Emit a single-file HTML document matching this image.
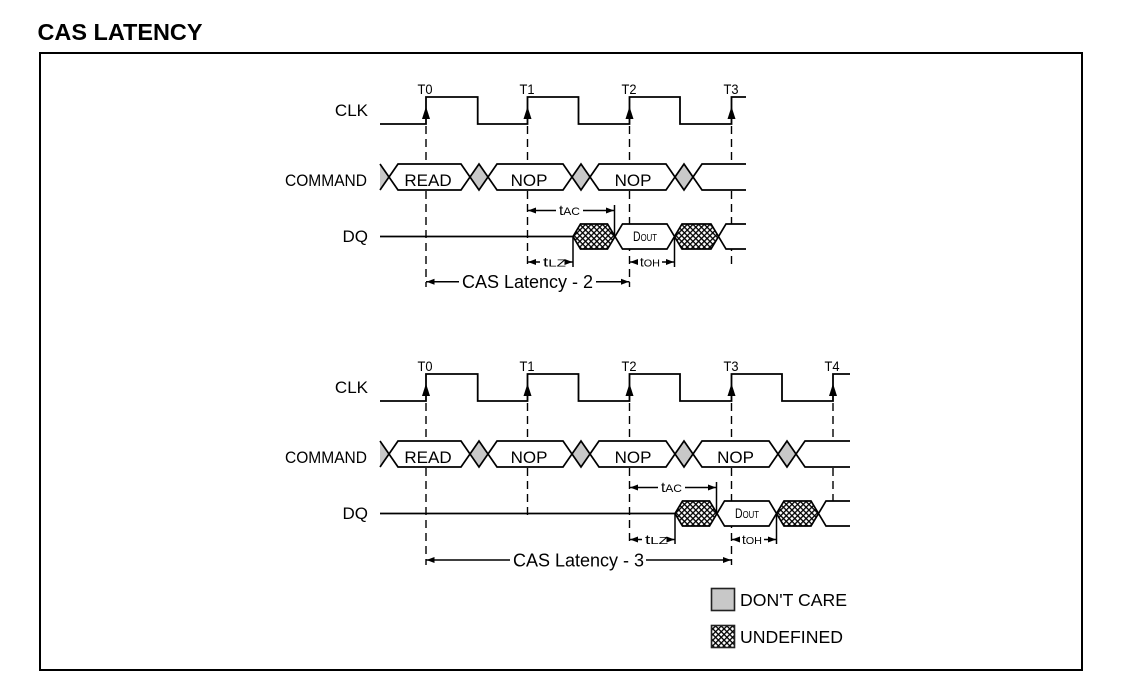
<!DOCTYPE html>
<html><head><meta charset="utf-8"><style>
html,body{margin:0;padding:0;background:#fff;}
svg{display:block;}
text{font-family:"Liberation Sans",Arial,sans-serif;fill:#000;}
</style></head><body>
<svg width="1125" height="684" viewBox="0 0 1125 684" xmlns="http://www.w3.org/2000/svg">
<defs>
<pattern id="hatch" patternUnits="userSpaceOnUse" width="4" height="4" patternTransform="rotate(45)">
<rect width="4" height="4" fill="#fff"/>
<rect x="0" y="0" width="4" height="1.3" fill="#000"/>
<rect x="0" y="0" width="1.3" height="4" fill="#000"/>
</pattern>
</defs>
<rect width="1125" height="684" fill="#fff"/>
<text x="37.5" y="40" font-size="23" font-weight="bold" textLength="165" lengthAdjust="spacingAndGlyphs">CAS LATENCY</text>
<rect x="40" y="53" width="1042" height="617" fill="none" stroke="#000" stroke-width="2"/>

<!-- ================= DIAGRAM 1 ================= -->
<g stroke="#000" stroke-width="1.4" stroke-dasharray="8 5" fill="none">
<line x1="426" y1="126" x2="426" y2="287"/>
<line x1="527.5" y1="126" x2="527.5" y2="268"/>
<line x1="629.5" y1="126" x2="629.5" y2="287"/>
<line x1="731.5" y1="126" x2="731.5" y2="268"/>
</g>
<text x="368" y="116" font-size="17" text-anchor="end">CLK</text>
<text x="285" y="186" font-size="17" textLength="82" lengthAdjust="spacingAndGlyphs">COMMAND</text>
<text x="368" y="242" font-size="17" text-anchor="end">DQ</text>
<g font-size="14" text-anchor="middle">
<text x="425" y="94" textLength="15" lengthAdjust="spacingAndGlyphs">T0</text><text x="527" y="94" textLength="15" lengthAdjust="spacingAndGlyphs">T1</text><text x="629" y="94" textLength="15" lengthAdjust="spacingAndGlyphs">T2</text><text x="731" y="94" textLength="15" lengthAdjust="spacingAndGlyphs">T3</text>
</g>
<polyline points="380,124 426,124 426,97 477.7,97 477.7,124 527.5,124 527.5,97 578.5,97 578.5,124 629.5,124 629.5,97 680,97 680,124 731.5,124 731.5,97 746,97" fill="none" stroke="#000" stroke-width="1.8"/>
<g fill="#000">
<polygon points="426,106.5 422,119 430,119"/>
<polygon points="527.5,106.5 523.5,119 531.5,119"/>
<polygon points="629.5,106.5 625.5,119 633.5,119"/>
<polygon points="731.5,106.5 727.5,119 735.5,119"/>
</g>
<g stroke="#000" stroke-width="1.7" stroke-linejoin="miter">
<polygon points="380,164 389,177 380,190" fill="#c8c8c8" stroke="none"/>
<line x1="380" y1="164" x2="389" y2="177"/><line x1="380" y1="190" x2="389" y2="177"/>
<polygon points="389,177 398,164 461,164 470,177 461,190 398,190" fill="#fff"/>
<polygon points="470,177 479,164 488,177 479,190" fill="#c8c8c8"/>
<polygon points="488,177 497,164 563,164 572,177 563,190 497,190" fill="#fff"/>
<polygon points="572,177 581,164 590,177 581,190" fill="#c8c8c8"/>
<polygon points="590,177 599,164 666,164 675,177 666,190 599,190" fill="#fff"/>
<polygon points="675,177 684,164 693,177 684,190" fill="#c8c8c8"/>
<polygon points="693,177 702,164 746,164 746,190 702,190" fill="#fff" stroke="none"/>
<polyline points="746,164 702,164 693,177 702,190 746,190" fill="none"/>
</g>
<g font-size="17" text-anchor="middle">
<text x="428" y="186">READ</text><text x="529" y="186">NOP</text><text x="633" y="186">NOP</text>
</g>
<g stroke="#000" stroke-width="1.7">
<line x1="380" y1="236.5" x2="573" y2="236.5"/>
<polygon points="573,236.5 580.5,224 607.5,224 615,236.5 607.5,249 580.5,249" fill="url(#hatch)"/>
<polygon points="615,236.5 622.5,224 667,224 674.5,236.5 667,249 622.5,249" fill="#fff"/>
<polygon points="674.5,236.5 682,224 711,224 718.5,236.5 711,249 682,249" fill="url(#hatch)"/>
<polygon points="718.5,236.5 726,224 746,224 746,249 726,249" fill="#fff" stroke="none"/>
<polyline points="746,224 726,224 718.5,236.5 726,249 746,249" fill="none"/>
</g>
<text x="633" y="241" font-size="13.5" textLength="24" lengthAdjust="spacingAndGlyphs">D<tspan font-size="10">OUT</tspan></text>
<g stroke="#000" stroke-width="1.5">
<line x1="614.5" y1="205" x2="614.5" y2="236.5"/>
<line x1="573" y1="236.5" x2="573" y2="267"/>
<line x1="674.5" y1="236.5" x2="674.5" y2="267"/>
<line x1="527.5" y1="210.5" x2="556" y2="210.5"/><line x1="583" y1="210.5" x2="614.5" y2="210.5"/>
<line x1="527.5" y1="262" x2="540" y2="262"/><line x1="568" y1="262" x2="573" y2="262"/>
<line x1="629.5" y1="262" x2="638" y2="262"/><line x1="662" y1="262" x2="674.5" y2="262"/>
<line x1="426" y1="281.7" x2="459" y2="281.7"/><line x1="596" y1="281.7" x2="629.5" y2="281.7"/>
</g>
<g fill="#000">
<polygon points="528,210.5 536,207.5 536,213.5"/><polygon points="614,210.5 606,207.5 606,213.5"/>
<polygon points="528,262 536,259 536,265"/><polygon points="572.5,262 564.5,259 564.5,265"/>
<polygon points="630,262 638,259 638,265"/><polygon points="674,262 666,259 666,265"/>
<polygon points="426.5,281.7 434.5,278.7 434.5,284.7"/><polygon points="629,281.7 621,278.7 621,284.7"/>
</g>
<text x="559" y="215" font-size="14" textLength="21" lengthAdjust="spacingAndGlyphs">t<tspan font-size="11">AC</tspan></text>
<text x="543" y="266.5" font-size="13" textLength="23" lengthAdjust="spacingAndGlyphs">t<tspan font-size="10.5">LZ</tspan></text>
<text x="640" y="266.5" font-size="13" textLength="20" lengthAdjust="spacingAndGlyphs">t<tspan font-size="10.5">OH</tspan></text>
<text x="527.5" y="288" font-size="18" text-anchor="middle">CAS Latency - 2</text>

<!-- ================= DIAGRAM 2 ================= -->
<g stroke="#000" stroke-width="1.4" stroke-dasharray="8 5" fill="none">
<line x1="426" y1="403" x2="426" y2="565"/>
<line x1="527.5" y1="403" x2="527.5" y2="517"/>
<line x1="629.5" y1="403" x2="629.5" y2="545"/>
<line x1="731.5" y1="403" x2="731.5" y2="565"/>
<line x1="833" y1="403" x2="833" y2="501"/>
</g>
<text x="368" y="393" font-size="17" text-anchor="end">CLK</text>
<text x="285" y="463" font-size="17" textLength="82" lengthAdjust="spacingAndGlyphs">COMMAND</text>
<text x="368" y="519" font-size="17" text-anchor="end">DQ</text>
<g font-size="14" text-anchor="middle">
<text x="425" y="371" textLength="15" lengthAdjust="spacingAndGlyphs">T0</text><text x="527" y="371" textLength="15" lengthAdjust="spacingAndGlyphs">T1</text><text x="629" y="371" textLength="15" lengthAdjust="spacingAndGlyphs">T2</text><text x="731" y="371" textLength="15" lengthAdjust="spacingAndGlyphs">T3</text><text x="832" y="371" textLength="15" lengthAdjust="spacingAndGlyphs">T4</text>
</g>
<polyline points="380,401 426,401 426,374 477.7,374 477.7,401 527.5,401 527.5,374 578.5,374 578.5,401 629.5,401 629.5,374 680,374 680,401 731.5,401 731.5,374 782,374 782,401 833,401 833,374 850,374" fill="none" stroke="#000" stroke-width="1.8"/>
<g fill="#000">
<polygon points="426,383.5 422,396 430,396"/>
<polygon points="527.5,383.5 523.5,396 531.5,396"/>
<polygon points="629.5,383.5 625.5,396 633.5,396"/>
<polygon points="731.5,383.5 727.5,396 735.5,396"/>
<polygon points="833,383.5 829,396 837,396"/>
</g>
<g stroke="#000" stroke-width="1.7" stroke-linejoin="miter">
<polygon points="380,441 389,454 380,467" fill="#c8c8c8" stroke="none"/>
<line x1="380" y1="441" x2="389" y2="454"/><line x1="380" y1="467" x2="389" y2="454"/>
<polygon points="389,454 398,441 461,441 470,454 461,467 398,467" fill="#fff"/>
<polygon points="470,454 479,441 488,454 479,467" fill="#c8c8c8"/>
<polygon points="488,454 497,441 563,441 572,454 563,467 497,467" fill="#fff"/>
<polygon points="572,454 581,441 590,454 581,467" fill="#c8c8c8"/>
<polygon points="590,454 599,441 666,441 675,454 666,467 599,467" fill="#fff"/>
<polygon points="675,454 684,441 693,454 684,467" fill="#c8c8c8"/>
<polygon points="693,454 702,441 769,441 778,454 769,467 702,467" fill="#fff"/>
<polygon points="778,454 787,441 796,454 787,467" fill="#c8c8c8"/>
<polygon points="796,454 805,441 850,441 850,467 805,467" fill="#fff" stroke="none"/>
<polyline points="850,441 805,441 796,454 805,467 850,467" fill="none"/>
</g>
<g font-size="17" text-anchor="middle">
<text x="428" y="463">READ</text><text x="529" y="463">NOP</text><text x="633" y="463">NOP</text><text x="735.5" y="463">NOP</text>
</g>
<g stroke="#000" stroke-width="1.7">
<line x1="380" y1="513.5" x2="675" y2="513.5"/>
<polygon points="675,513.5 682.5,501 709.5,501 717,513.5 709.5,526 682.5,526" fill="url(#hatch)"/>
<polygon points="717,513.5 724.5,501 769,501 776.5,513.5 769,526 724.5,526" fill="#fff"/>
<polygon points="776.5,513.5 784,501 811,501 818.5,513.5 811,526 784,526" fill="url(#hatch)"/>
<polygon points="818.5,513.5 826,501 850,501 850,526 826,526" fill="#fff" stroke="none"/>
<polyline points="850,501 826,501 818.5,513.5 826,526 850,526" fill="none"/>
</g>
<text x="735" y="518" font-size="13.5" textLength="24" lengthAdjust="spacingAndGlyphs">D<tspan font-size="10">OUT</tspan></text>
<g stroke="#000" stroke-width="1.5">
<line x1="716.5" y1="482" x2="716.5" y2="513.5"/>
<line x1="675" y1="513.5" x2="675" y2="544"/>
<line x1="776.5" y1="513.5" x2="776.5" y2="544"/>
<line x1="629.5" y1="487.5" x2="658" y2="487.5"/><line x1="685" y1="487.5" x2="716.5" y2="487.5"/>
<line x1="629.5" y1="539.5" x2="642" y2="539.5"/><line x1="670" y1="539.5" x2="675" y2="539.5"/>
<line x1="731.5" y1="539.5" x2="740" y2="539.5"/><line x1="764" y1="539.5" x2="776.5" y2="539.5"/>
<line x1="426" y1="560" x2="510" y2="560"/><line x1="646" y1="560" x2="731.5" y2="560"/>
</g>
<g fill="#000">
<polygon points="630,487.5 638,484.5 638,490.5"/><polygon points="716,487.5 708,484.5 708,490.5"/>
<polygon points="630,539.5 638,536.5 638,542.5"/><polygon points="674.5,539.5 666.5,536.5 666.5,542.5"/>
<polygon points="732,539.5 740,536.5 740,542.5"/><polygon points="776,539.5 768,536.5 768,542.5"/>
<polygon points="426.5,560 434.5,557 434.5,563"/><polygon points="731,560 723,557 723,563"/>
</g>
<text x="661" y="492" font-size="14" textLength="21" lengthAdjust="spacingAndGlyphs">t<tspan font-size="11">AC</tspan></text>
<text x="645" y="544" font-size="13" textLength="23" lengthAdjust="spacingAndGlyphs">t<tspan font-size="10.5">LZ</tspan></text>
<text x="742" y="544" font-size="13" textLength="20" lengthAdjust="spacingAndGlyphs">t<tspan font-size="10.5">OH</tspan></text>
<text x="578.5" y="566.5" font-size="18" text-anchor="middle">CAS Latency - 3</text>

<!-- Legend -->
<rect x="711.5" y="588.5" width="23" height="22" fill="#c8c8c8" stroke="#222" stroke-width="1.6"/>
<text x="740" y="606" font-size="17.5" textLength="107" lengthAdjust="spacingAndGlyphs">DON'T CARE</text>
<rect x="711.5" y="625.5" width="23" height="22" fill="url(#hatch)" stroke="#222" stroke-width="1.6"/>
<text x="740" y="643" font-size="17.5" textLength="103" lengthAdjust="spacingAndGlyphs">UNDEFINED</text>
</svg>
</body></html>
